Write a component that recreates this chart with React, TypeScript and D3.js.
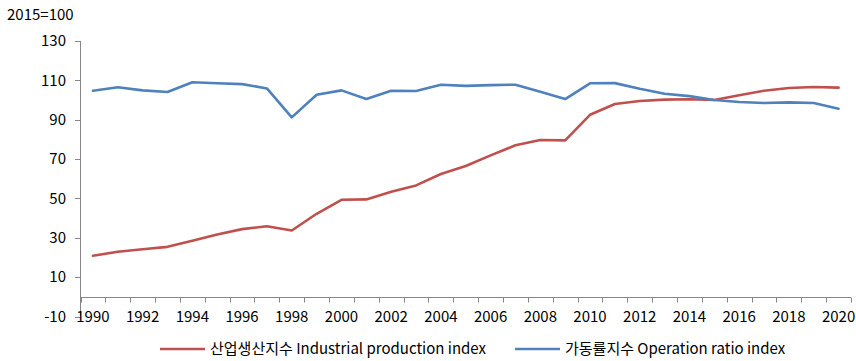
import React from "react";
import * as d3 from "d3";

const years: number[] = [
  1990, 1991, 1992, 1993, 1994, 1995, 1996, 1997, 1998, 1999, 2000, 2001, 2002, 2003, 2004, 2005,
  2006, 2007, 2008, 2009, 2010, 2011, 2012, 2013, 2014, 2015, 2016, 2017, 2018, 2019, 2020,
];
const industrialProduction: number[] = [
  20.9, 22.9, 24.2, 25.4, 28.5, 31.7, 34.4, 35.9, 33.7, 42.2, 49.3, 49.5, 53.4, 56.6, 62.4, 66.5,
  71.9, 77.0, 79.7, 79.5, 92.5, 98.0, 99.5, 100.2, 100.4, 100.0, 102.4, 104.7, 106.1, 106.6, 106.3,
];
const operationRatio: number[] = [
  104.7, 106.5, 104.9, 104.1, 109.0, 108.5, 108.1, 105.9, 91.2, 102.7, 104.9, 100.5, 104.7, 104.6, 107.8, 107.2,
  107.6, 107.8, 104.2, 100.5, 108.5, 108.6, 105.7, 103.2, 102.0, 100.0, 99.0, 98.5, 98.8, 98.5, 95.6,
];
const yTicks: number[] = [-10, 10, 30, 50, 70, 90, 110, 130];
const xLabelYears: number[] = years.filter((y) => y % 2 === 0);
const seriesNames: string[] = ["산업생산지수 Industrial production index", "가동률지수 Operation ratio index"];
const unitLabel = "2015=100";

const W = 856;
const H = 361;
const FONT = "'Noto Sans CJK KR', 'Noto Sans', sans-serif";
const RED = "#C0504D";
const BLUE = "#4F81BD";
const AXIS = "#868686";
const FS = 15;

export default function App() {
  const x = d3.scaleBand<number>().domain(years).range([80.5, 851]);
  const y = d3.scaleLinear().domain([-10, 130]).range([316.5, 41]);
  const cx = (yr: number) => (x(yr) as number) + x.bandwidth() / 2;

  const line = d3
    .line<number>()
    .x((_, i) => cx(years[i]))
    .y((v) => y(v));

  const axisY = Math.round(y(0)) + 0.5;
  const boundaries = years.map((yr) => x(yr) as number).concat([(x(years[years.length - 1]) as number) + x.bandwidth()]);

  const series = [
    { name: seriesNames[0], values: industrialProduction, color: RED },
    { name: seriesNames[1], values: operationRatio, color: BLUE },
  ];

  const legendX = [160, 515];

  return (
    <svg
      width={W}
      height={H}
      style={{ position: "absolute", left: 0, top: 0, background: "#fff" }}
      fontFamily={FONT}
    >
      <rect width={W} height={H} fill="#fff" />
      <text x={7} y={20} fontSize={FS} fill="#000">
        {unitLabel}
      </text>

      {/* y axis */}
      <line x1={80.5} x2={80.5} y1={y(130)} y2={y(-10)} stroke={AXIS} strokeWidth={1} />
      {yTicks.map((t) => (
        <g key={t}>
          <line x1={75} x2={80.5} y1={Math.round(y(t)) + 0.5} y2={Math.round(y(t)) + 0.5} stroke={AXIS} />
          <text x={66} y={y(t)} dy="0.35em" textAnchor="end" fontSize={FS} fill="#000">
            {t}
          </text>
        </g>
      ))}

      {/* x axis */}
      <line x1={80.5} x2={851} y1={axisY} y2={axisY} stroke={AXIS} />
      {boundaries.map((b, i) => (
        <line key={i} x1={Math.round(b) + 0.5} x2={Math.round(b) + 0.5} y1={axisY} y2={axisY + 5} stroke={AXIS} />
      ))}
      {xLabelYears.map((yr) => (
        <text key={yr} x={cx(yr)} y={322} textAnchor="middle" fontSize={FS} fill="#000">
          {yr}
        </text>
      ))}

      {/* lines */}
      {series.map((s) => (
        <path
          key={s.name}
          d={line(s.values) || ""}
          fill="none"
          stroke={s.color}
          strokeWidth={2.6}
          strokeLinejoin="round"
          strokeLinecap="round"
        />
      ))}

      {/* legend */}
      {series.map((s, i) => (
        <g key={s.name}>
          <line x1={legendX[i]} x2={legendX[i] + 45} y1={349} y2={349} stroke={s.color} strokeWidth={2.6} />
          <text x={legendX[i] + 50} y={349} dy="0.35em" fontSize={FS} fill="#000">
            {s.name}
          </text>
        </g>
      ))}
    </svg>
  );
}
